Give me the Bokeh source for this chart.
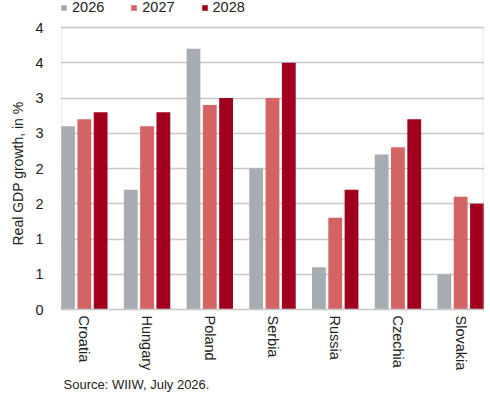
import math
from bokeh.plotting import figure
from bokeh.models import (ColumnDataSource, Range1d, FixedTicker, NumeralTickFormatter,
                          Legend, LegendItem, Title, BoxAnnotation)
from bokeh.embed import file_html
from bokeh.resources import INLINE

countries = ["Croatia", "Hungary", "Poland", "Serbia", "Russia", "Czechia", "Slovakia"]
years = ["2026", "2027", "2028"]
g2026 = [2.6, 1.7, 3.7, 2.0, 0.6, 2.2, 0.5]
g2027 = [2.7, 2.6, 2.9, 3.0, 1.3, 2.3, 1.6]
g2028 = [2.8, 2.8, 3.0, 3.5, 1.7, 2.7, 1.5]
y_ticks = [0, 0.5, 1, 1.5, 2, 2.5, 3, 3.5, 4]
colors = ["#A6ACB1", "#D46363", "#A0001E"]

FONT = "Liberation Sans"
GRID = "#C8C8C8"

HEIGHT = 393
FRAME_H = 312          # frame spans whole top area so the legend can sit in it
PLOT_TOP = 27.3        # screen y of the value-axis maximum
Y_MAX = y_ticks[-1]
Y_END = Y_MAX * FRAME_H / (FRAME_H - PLOT_TOP)
X_PAD = 0.36
n = len(countries)
idx = list(range(n))

p = figure(width=486, height=HEIGHT, output_backend="svg", toolbar_location=None,
           x_range=Range1d(-X_PAD - 0.02, n - 1 + X_PAD + 0.02), y_range=Range1d(0, Y_END),
           min_border_left=53, min_border_right=2, min_border_top=0,
           min_border_bottom=HEIGHT - FRAME_H)

offsets = [-0.26, 0.0, 0.26]
items = []
for vals, off, col, yr in zip([g2026, g2027, g2028], offsets, colors, years):
    src = ColumnDataSource(dict(x=[i + off for i in idx], top=vals))
    r = p.vbar(x="x", top="top", width=0.22, bottom=0, source=src,
               fill_color=col, line_color=None)
    items.append(LegendItem(label=yr, renderers=[r]))

# plot-area border (from 0 to the axis maximum)
p.add_layout(BoxAnnotation(left=-X_PAD, right=n - 1 + X_PAD, bottom=0, top=Y_MAX,
                           fill_alpha=0, line_color=GRID, line_width=1.3))

# axes
p.xaxis.ticker = FixedTicker(ticks=idx)
p.xaxis.major_label_overrides = {i: c for i, c in zip(idx, countries)}
p.xaxis.major_label_orientation = "vertical"
p.xaxis.major_label_standoff = 6
p.xaxis.major_tick_out = 0
p.xaxis.major_tick_in = 0
p.xaxis.major_tick_line_color = None
p.xaxis.minor_tick_line_color = None
p.xaxis.axis_line_color = GRID
p.xaxis.axis_line_width = 1.5
p.xaxis.major_label_text_font = FONT
p.xaxis.major_label_text_font_size = "14.5px"
p.xaxis.major_label_text_color = "#222222"

p.yaxis.ticker = FixedTicker(ticks=y_ticks)
p.yaxis.formatter = NumeralTickFormatter(format="0")
p.yaxis.major_tick_out = 0
p.yaxis.major_tick_in = 0
p.yaxis.major_tick_line_color = None
p.yaxis.minor_tick_line_color = None
p.yaxis.axis_line_color = None
p.yaxis.major_label_standoff = 17
p.yaxis.major_label_text_font = FONT
p.yaxis.major_label_text_font_size = "14.5px"
p.yaxis.major_label_text_color = "#222222"

p.xgrid.grid_line_color = None
p.ygrid.grid_line_color = GRID
p.ygrid.grid_line_width = 1.3
p.outline_line_color = None

# value-axis title, placed along the plot area
ytitle = Title(text="Real GDP growth, in %", align="left", text_font=FONT,
               text_font_size="14px", text_font_style="normal", text_color="#222222",
               offset=64, standoff=14)
p.add_layout(ytitle, "left")

legend = Legend(items=items, orientation="horizontal", location=(0, FRAME_H - 18),
                glyph_width=7, glyph_height=7, label_standoff=5, spacing=26,
                padding=0, margin=0, border_line_color=None, background_fill_alpha=0,
                label_text_font=FONT, label_text_font_size="14.5px",
                label_text_color="#222222", label_height=16)
p.add_layout(legend)

src_title = Title(text="Source: WIIW, July 2026.", align="left", text_font=FONT,
                  text_font_size="13px", text_font_style="normal", text_color="#222222",
                  offset=3, standoff=3)
p.add_layout(src_title, "below")

open("out.html", "w").write(file_html(p, INLINE))
